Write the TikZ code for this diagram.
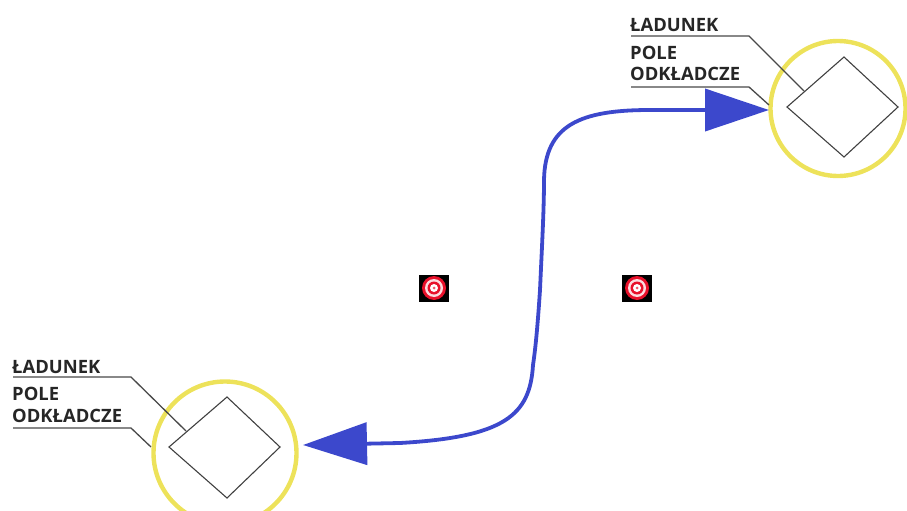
\documentclass[tikz,border=0pt]{standalone}
\usepackage{fontspec}
\setmainfont{Open Sans}[BoldFont={Open Sans Bold}]
\usetikzlibrary{arrows.meta}
\definecolor{ringyellow}{HTML}{EDE25A}
\definecolor{flowblue}{HTML}{3C48CC}
\definecolor{leadergray}{HTML}{484848}
\definecolor{targetred}{HTML}{E8102A}
\tikzset{
  ring/.style={circle,draw=ringyellow,line width=4.4pt,minimum size=#1,inner sep=0pt},
  leader/.style={draw=leadergray,line width=1.3pt},
  cell/.style={draw=black!75,line width=1.1pt,line join=miter},
  lbl/.style={anchor=base west,inner sep=0pt,font=\fontsize{18.4}{18.4}\selectfont\bfseries,text=black!85},
  flow/.style={draw=flowblue,line width=3.8pt,-{Triangle[length=64pt,width=42pt,fill=flowblue]}},
  tbox/.style={fill=black,minimum width=30pt,minimum height=27pt,inner sep=0pt},
}
\begin{document}
\begin{tikzpicture}[x=1pt,y=-1pt]
\useasboundingbox (0,0) rectangle (907,511);
% upper right
\node[ring=135pt] (ringA) at (838,108.5) {};
\coordinate (aL) at (787,107);\coordinate (aT) at (844,57);\coordinate (aR) at (898,107);\coordinate (aB) at (844,157);
\draw[cell] (aL)--(aT)--(aR)--(aB)--cycle;
\node[lbl] (a1) at (630,32) {ŁADUNEK};
\node[lbl] (a2) at (630,59.5) {POLE};
\node[lbl] (a3) at (630,81) {ODKŁADCZE};
\coordinate (a1s) at (631,36);\coordinate (a1k) at (749,36);\coordinate (a1e) at (804,91);
\coordinate (a2s) at (631,87);\coordinate (a2k) at (749,87);\coordinate (a2e) at (769,105);
\draw[leader] (a1s)--(a1k)--(a1e);
\draw[leader] (a2s)--(a2k)--(a2e);
% lower left
\node[ring=143pt] (ringB) at (225,453) {};
\coordinate (bL) at (169,447);\coordinate (bT) at (227,397);\coordinate (bR) at (280,447);\coordinate (bB) at (227,498);
\draw[cell] (bL)--(bT)--(bR)--(bB)--cycle;
\node[lbl] (b1) at (12,373) {ŁADUNEK};
\node[lbl] (b2) at (12,400.5) {POLE};
\node[lbl] (b3) at (12,422) {ODKŁADCZE};
\coordinate (b1s) at (13,377);\coordinate (b1k) at (131,377);\coordinate (b1e) at (186,431);
\coordinate (b2s) at (13,428);\coordinate (b2k) at (131,428);\coordinate (b2e) at (151,447);
\draw[leader] (b1s)--(b1k)--(b1e);
\draw[leader] (b2s)--(b2k)--(b2e);
% flow
\coordinate (tipA) at (769,110);\coordinate (tipB) at (303,445);\coordinate (mid) at (540,290);
\draw[flow] (mid) .. controls (542,245) and (544,210) .. (544,180) .. controls (545,125) and (580,110) .. (650,110) -- (tipA);
\draw[flow] (mid) .. controls (538,320) and (536,345) .. (533,365) .. controls (530,415) and (505,437) .. (400,443) -- (tipB);
% targets
\foreach \n/\x in {t1/434,t2/637}{
  \node[tbox] (\n) at (\x,288) {};
  \fill[targetred] (\n.center) circle (12pt);
  \fill[white!85!targetred] (\n.center) circle (9pt);
  \fill[targetred] (\n.center) circle (6.5pt);
  \fill[white] (\n.center) circle (4pt);
  \fill[targetred!70] (\n.center) circle (1.5pt);
}
\end{tikzpicture}
\end{document}
